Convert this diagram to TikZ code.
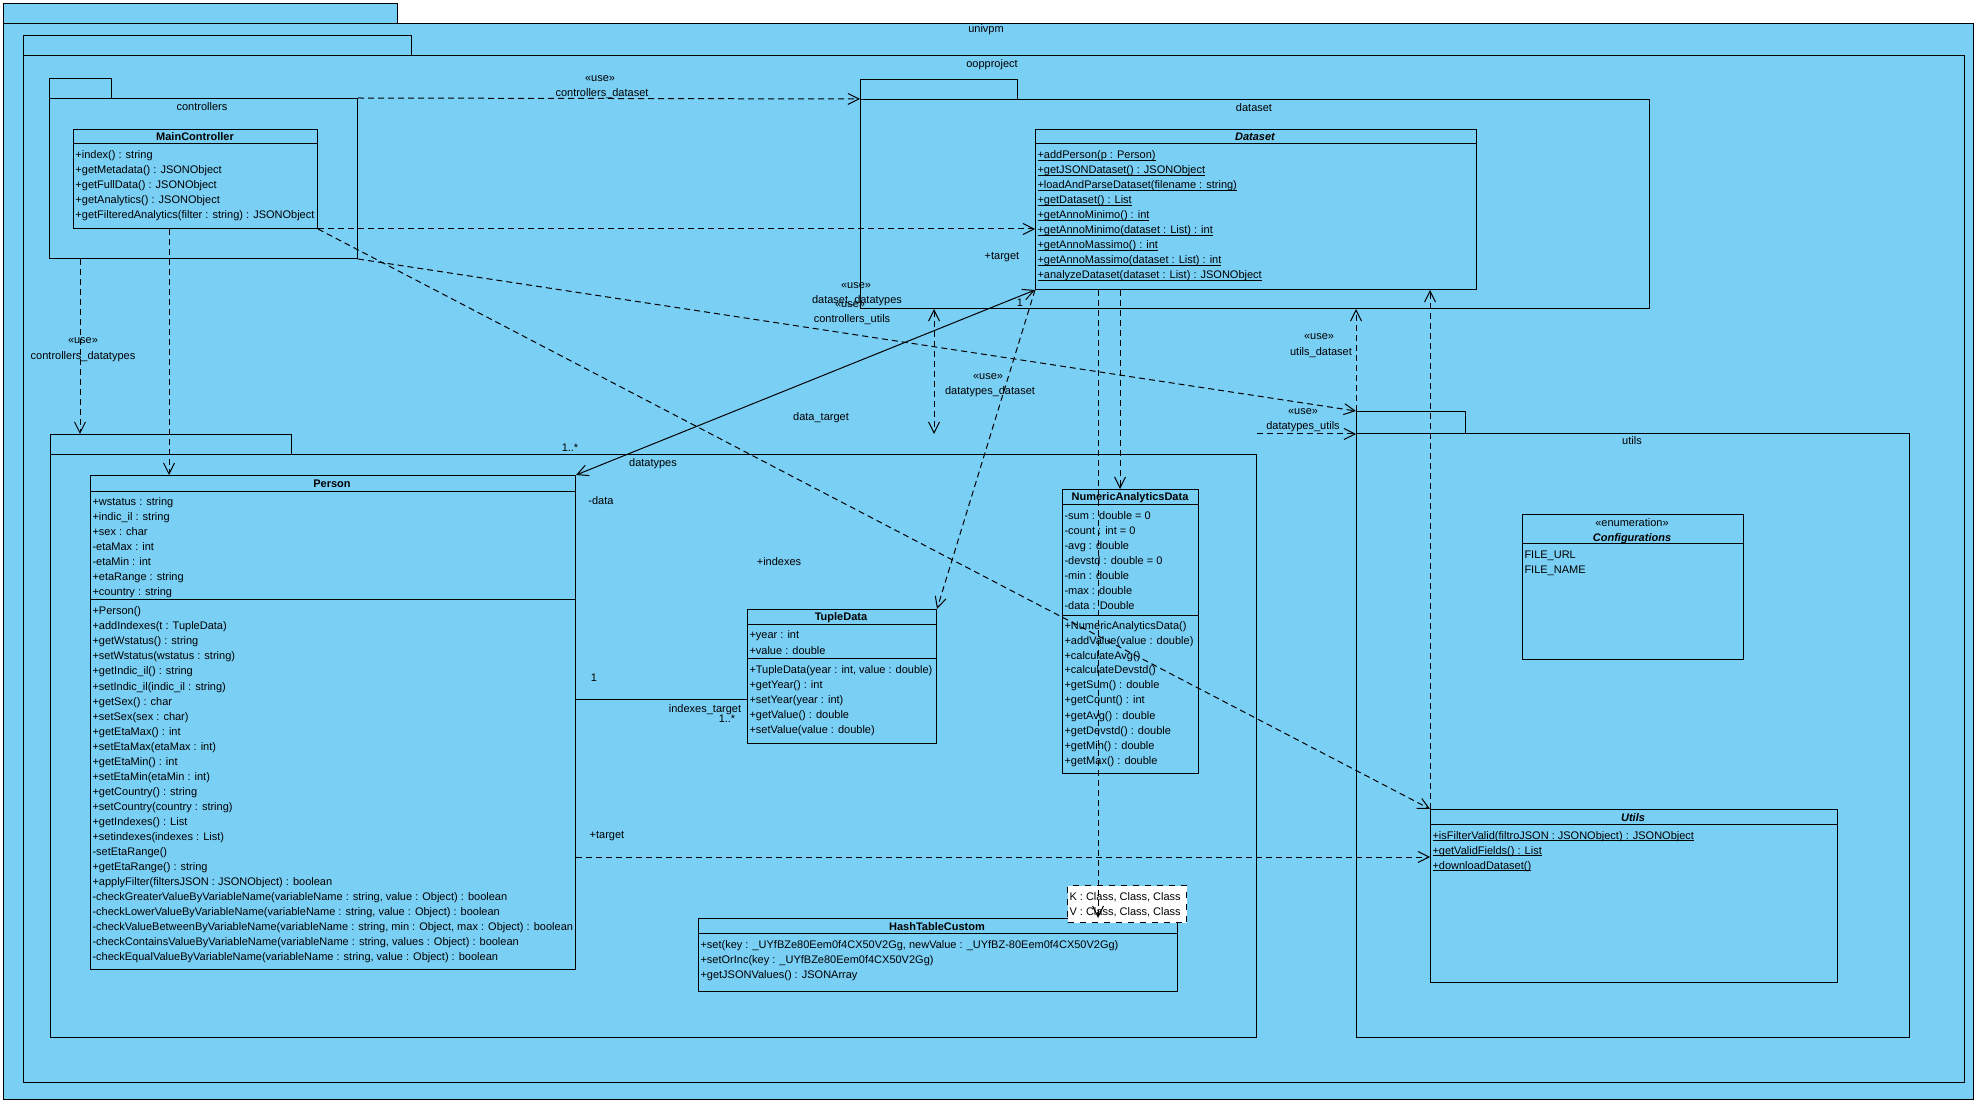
\documentclass[tikz,border=0pt]{standalone}
\usepackage{fontspec}
\setmainfont{Liberation Sans}
\usetikzlibrary{arrows.meta,calc}
\definecolor{vpblue}{RGB}{122,207,245}
\newcommand{\vpfont}{\fontsize{5.5}{6.6}\selectfont}
\newcommand{\stereo}[1]{\textless\textless#1\textgreater\textgreater}
\newsavebox{\ulbox}
\newcommand{\vpul}[1]{\sbox{\ulbox}{#1}\rlap{\rule[-0.7pt]{\wd\ulbox}{0.35pt}}\usebox{\ulbox}}
\tikzset{
  sz/.style 2 args={minimum width=#1*0.5pt,minimum height=#2*0.5pt},
  pkg/.style={draw,fill=vpblue,anchor=north west,inner sep=0pt},
  cls/.style={draw,fill=vpblue,anchor=north west,inner sep=0pt},
  tplbox/.style={draw,dashed,fill=white,anchor=north west,inner sep=0pt},
  ttl/.style={anchor=base,inner sep=0pt,font=\vpfont\bfseries},
  row/.style={anchor=base west,inner sep=0pt,font=\vpfont},
  lbl/.style={anchor=base,inner sep=0pt,font=\vpfont},
  dep/.style={-{Straight Barb[length=5.5pt,width=5.5pt]},dash pattern=on 3pt off 2pt},
  assoc/.style={{Straight Barb[length=5.5pt,width=5.5pt]}-{Straight Barb[length=5.5pt,width=5.5pt]}},
}

\begin{document}
\begin{tikzpicture}[x=0.5pt,y=-0.5pt,line width=0.5pt]
  \useasboundingbox (0,0) rectangle (1977,1101);

  % packages
  \node[pkg,sz={394}{20}]   (univtab) at (3,3) {};
  \node[pkg,sz={1970}{1076}] (univ)   at (3,23) {};
  \node[lbl] at (986,33) {univpm};
  \node[pkg,sz={388}{20}]   (oopptab) at (23,35) {};
  \node[pkg,sz={1941}{1027}] (oopp)   at (23,55) {};
  \node[lbl] at (992,68) {oopproject};
  \node[pkg,sz={62}{20}]    (ctrltab) at (49,78) {};
  \node[pkg,sz={308}{160}]  (ctrl)    at (49,98) {};
  \node[lbl] at (202,111) {controllers};
  \node[pkg,sz={157}{20}]   (dspkgtab) at (860,79) {};
  \node[pkg,sz={789}{209}]  (dspkg)   at (860,99) {};
  \node[lbl] at (1254,112) {dataset};
  \node[pkg,sz={241}{20}]   (dttab)   at (50,434) {};
  \node[pkg,sz={1206}{583}] (dtpkg)   at (50,454) {};
  \node[lbl] at (653,467) {datatypes};
  \node[pkg,sz={109}{22}]   (uttab)   at (1356,411) {};
  \node[pkg,sz={553}{604}]  (utpkg)   at (1356,433) {};
  \node[lbl] at (1632,445) {utils};

  % MainController
  \node[cls,sz={244}{99}] (mc) at (73,129) {};
  \draw ([yshift=-7.5pt]mc.north west) -- ([yshift=-7.5pt]mc.north east);
  \node[ttl] at (195,141) {MainController};
  \foreach \t [count=\i from 0] in {+index() : string, +getMetadata() : JSONObject,
      +getFullData() : JSONObject, +getAnalytics() : JSONObject,
      +getFilteredAnalytics(filter : string) : JSONObject}
    \node[row] at (75,{159+15*\i}) {\t};

  % Dataset
  \node[cls,sz={441}{160}] (ds) at (1035,129) {};
  \draw ([yshift=-7.5pt]ds.north west) -- ([yshift=-7.5pt]ds.north east);
  \node[ttl,font=\vpfont\bfseries\itshape] at (1255,141) {Dataset};
  \foreach \t [count=\i from 0] in {+addPerson(p : Person), +getJSONDataset() : JSONObject,
      +loadAndParseDataset(filename : string), +getDataset() : List, +getAnnoMinimo() : int,
      +getAnnoMinimo(dataset : List) : int, +getAnnoMassimo() : int,
      +getAnnoMassimo(dataset : List) : int, +analyzeDataset(dataset : List) : JSONObject}
    \node[row] at (1037,{159+15*\i}) {\vpul{\t}};

  % Person
  \node[cls,sz={485}{494}] (person) at (90,475) {};
  \draw ([yshift=-8.5pt]person.north west) -- ([yshift=-8.5pt]person.north east);
  \draw ([yshift=-62.5pt]person.north west) -- ([yshift=-62.5pt]person.north east);
  \node[ttl] at (332,488) {Person};
  \foreach \t [count=\i from 0] in {+wstatus : string, +indic\_il : string, +sex : char,
      -etaMax : int, -etaMin : int, +etaRange : string, +country : string}
    \node[row] at (92,{506+15*\i}) {\t};
  \foreach \t [count=\i from 0] in {+Person(), +addIndexes(t : TupleData), +getWstatus() : string,
      +setWstatus(wstatus : string), +getIndic\_il() : string, +setIndic\_il(indic\_il : string),
      +getSex() : char, +setSex(sex : char), +getEtaMax() : int, +setEtaMax(etaMax : int),
      +getEtaMin() : int, +setEtaMin(etaMin : int), +getCountry() : string,
      +setCountry(country : string), +getIndexes() : List, +setindexes(indexes : List),
      -setEtaRange(), +getEtaRange() : string, +applyFilter(filtersJSON : JSONObject) : boolean,
      {-checkGreaterValueByVariableName(variableName : string, value : Object) : boolean},
      {-checkLowerValueByVariableName(variableName : string, value : Object) : boolean},
      {-checkValueBetweenByVariableName(variableName : string, min : Object, max : Object) : boolean},
      {-checkContainsValueByVariableName(variableName : string, values : Object) : boolean},
      {-checkEqualValueByVariableName(variableName : string, value : Object) : boolean}}
    \node[row] at (92,{615+15*\i}) {\t};

  % TupleData
  \node[cls,sz={189}{134}] (tuple) at (747,609) {};
  \draw ([yshift=-7.5pt]tuple.north west) -- ([yshift=-7.5pt]tuple.north east);
  \draw ([yshift=-24.5pt]tuple.north west) -- ([yshift=-24.5pt]tuple.north east);
  \node[ttl] at (841,620) {TupleData};
  \foreach \t [count=\i from 0] in {+year : int, +value : double}
    \node[row] at (749,{639+15*\i}) {\t};
  \foreach \t [count=\i from 0] in {{+TupleData(year : int, value : double)}, +getYear() : int,
      +setYear(year : int), +getValue() : double, +setValue(value : double)}
    \node[row] at (749,{673+15*\i}) {\t};

  % NumericAnalyticsData
  \node[cls,sz={136}{284}] (nad) at (1062,489) {};
  \draw ([yshift=-8pt]nad.north west) -- ([yshift=-8pt]nad.north east);
  \draw ([yshift=-63pt]nad.north west) -- ([yshift=-63pt]nad.north east);
  \node[ttl] at (1130,501) {NumericAnalyticsData};
  \foreach \t [count=\i from 0] in {-sum : double = 0, -count : int = 0, -avg : double,
      -devstd : double = 0, -min : double, -max : double, -data : Double}
    \node[row] at (1064,{520+15*\i}) {\t};
  \foreach \t [count=\i from 0] in {+NumericAnalyticsData(), +addValue(value : double),
      +calculateAvg(), +calculateDevstd(), +getSum() : double, +getCount() : int,
      +getAvg() : double, +getDevstd() : double, +getMin() : double, +getMax() : double}
    \node[row] at (1064,{629+15*\i}) {\t};

  % HashTableCustom
  \node[cls,sz={479}{73}] (htc) at (698,918) {};
  \draw ([yshift=-7.5pt]htc.north west) -- ([yshift=-7.5pt]htc.north east);
  \node[ttl] at (937,930) {HashTableCustom};
  \foreach \t [count=\i from 0] in {{+set(key : \_UYfBZe80Eem0f4CX50V2Gg, newValue : \_UYfBZ-80Eem0f4CX50V2Gg)},
      +setOrInc(key : \_UYfBZe80Eem0f4CX50V2Gg), +getJSONValues() : JSONArray}
    \node[row] at (700,{948+15*\i}) {\t};
  \node[tplbox,sz={119}{37}] (tmpl) at (1067,885) {};
  \node[row] at (1069,900) {K : Class, Class, Class};
  \node[row] at (1069,915) {V : Class, Class, Class};

  % Configurations
  \node[cls,sz={221}{145}] (conf) at (1522,514) {};
  \draw ([yshift=-15pt]conf.north west) -- ([yshift=-15pt]conf.north east);
  \node[lbl] at (1632,527) {\stereo{enumeration}};
  \node[ttl,font=\vpfont\bfseries\itshape] at (1632,542) {Configurations};
  \node[row] at (1524,559) {FILE\_URL};
  \node[row] at (1524,574) {FILE\_NAME};

  % Utils
  \node[cls,sz={407}{173}] (utl) at (1430,809) {};
  \draw ([yshift=-7.5pt]utl.north west) -- ([yshift=-7.5pt]utl.north east);
  \node[ttl,font=\vpfont\bfseries\itshape] at (1633,821) {Utils};
  \foreach \t [count=\i from 0] in {+isFilterValid(filtroJSON : JSONObject) : JSONObject,
      +getValidFields() : List, +downloadDataset()}
    \node[row] at (1432,{839+15*\i}) {\vpul{\t}};

  % connectors
  \draw[dep] (ctrl.north east) -- (dspkg.north west);
  \draw[dep] (mc.south east) -- (mc.south east -| ds.west);
  \draw[dep] ([xshift=15.5pt]ctrl.south west) -- ([xshift=15.5pt]ctrl.south west |- dttab.north);
  \draw[dep] ([xshift=48pt]mc.south west) -- ([xshift=48pt]mc.south west |- person.north);
  \draw[dep] (ctrl.south east) -- (uttab.north west);
  \draw[dep] (mc.south east) -- (utl.north west);
  \draw[assoc] (person.north east) -- (ds.south west);
  \draw[dep,{Straight Barb[length=5.5pt,width=5.5pt]}-{Straight Barb[length=5.5pt,width=5.5pt]}]
    ([xshift=37pt]dspkg.south west) -- ([xshift=37pt]dspkg.south west |- dttab.north);
  \draw[dep] (ds.south west) -- (tuple.north east);
  \draw[dep] ([xshift=42.5pt]ds.south west) -- ([xshift=42.5pt]ds.south west |- nad.north);
  \draw[dep] ([xshift=31.5pt]ds.south west) -- ([xshift=31.5pt]ds.south west |- htc.north);
  \draw[dep] (uttab.north west) -- (uttab.north west |- dspkg.south);
  \draw[dep] (dttab.north -| dtpkg.east) -- (dttab.north -| utpkg.west);
  \draw[dep] (utl.north west) -- (utl.north west |- ds.south);
  \draw ([yshift=-112pt]person.north east) -- ([yshift=-112pt]person.north east -| tuple.west);
  \draw[dep] ([yshift=-191pt]person.north east) -- ([yshift=-191pt]person.north east -| utl.west);

  % connector labels
  \node[lbl] at (600,82)   {\stereo{use}};
  \node[lbl] at (602,97)   {controllers\_dataset};
  \node[lbl] at (83,344)   {\stereo{use}};
  \node[lbl] at (83,360)   {controllers\_datatypes};
  \node[lbl] at (856,289)  {\stereo{use}};
  \node[lbl] at (857,304)  {dataset\_datatypes};
  \node[lbl] at (850,308)  {\stereo{use}};
  \node[lbl] at (852,323)  {controllers\_utils};
  \node[lbl] at (1002,260) {+target};
  \node[lbl] at (1020,307) {1};
  \node[lbl] at (570,452)  {1..*};
  \node[lbl] at (821,421)  {data\_target};
  \node[lbl] at (601,505)  {-data};
  \node[lbl] at (988,380)  {\stereo{use}};
  \node[lbl] at (990,395)  {datatypes\_dataset};
  \node[lbl] at (779,566)  {+indexes};
  \node[lbl] at (594,681)  {1};
  \node[lbl] at (705,712)  {indexes\_target};
  \node[lbl] at (727,722)  {1..*};
  \node[lbl] at (607,838)  {+target};
  \node[lbl] at (1319,340) {\stereo{use}};
  \node[lbl] at (1321,356) {utils\_dataset};
  \node[lbl] at (1303,415) {\stereo{use}};
  \node[lbl] at (1303,430) {datatypes\_utils};
\end{tikzpicture}
\end{document}
